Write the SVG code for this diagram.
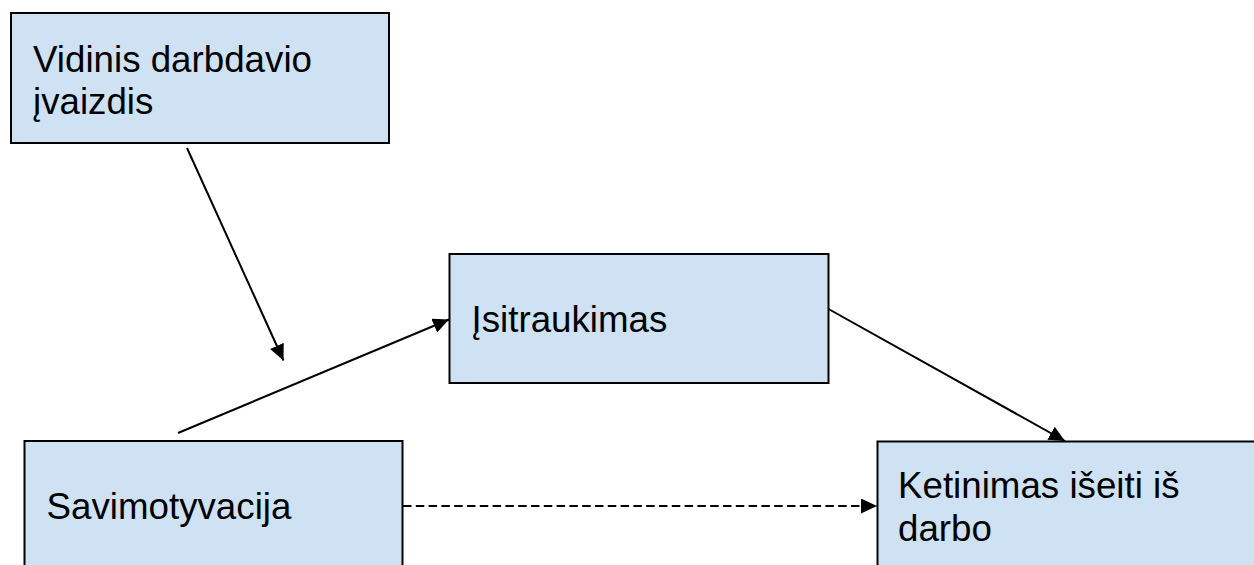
<svg xmlns="http://www.w3.org/2000/svg" width="1254" height="565" viewBox="0 0 1254 565">
  <style>
    .box { fill: #cfe2f3; stroke: #000; stroke-width: 2; }
    .lbl { font-family: "Liberation Sans", Arial, sans-serif; font-size: 36px; fill: #000; }
    .edge { stroke: #000; stroke-width: 2; fill: none; marker-end: url(#head); }
    .dashed { stroke-dasharray: 8.5 4.3; }
  </style>
  <defs>
    <marker id="head" markerUnits="userSpaceOnUse" markerWidth="17" markerHeight="16" refX="16" refY="7.5" orient="auto">
      <path d="M0,0 L16,7.5 L0,15 z" fill="#000"/>
    </marker>
  </defs>
  <rect width="1254" height="565" fill="#fff"/>

  <g id="connectors">
    <line class="edge" x1="187" y1="148" x2="283.5" y2="360.5"/>
    <line class="edge" x1="178" y1="433" x2="449" y2="319.5"/>
    <line class="edge" x1="828.5" y1="309" x2="1065" y2="441"/>
    <line class="edge dashed" x1="403" y1="506" x2="877" y2="506"/>
  </g>

  <g id="node-vidinis">
    <rect class="box" x="11" y="13" width="378" height="130"/>
    <text class="lbl" transform="translate(33 72) scale(1.02 1)"><tspan x="0" y="0">Vidinis darbdavio</tspan><tspan x="0" dy="42">įvaizdis</tspan></text>
  </g>

  <g id="node-isitraukimas">
    <rect class="box" x="449.5" y="254" width="379" height="129"/>
    <text class="lbl" transform="translate(471.5 332) scale(1.02 1)">Įsitraukimas</text>
  </g>

  <g id="node-savimotyvacija">
    <rect class="box" x="24.5" y="441" width="378" height="140"/>
    <text class="lbl" transform="translate(46.5 519) scale(1.02 1)">Savimotyvacija</text>
  </g>

  <g id="node-ketinimas">
    <rect class="box" x="877.5" y="441.5" width="400" height="140"/>
    <text class="lbl" transform="translate(898 498) scale(1.02 1)"><tspan x="0" y="0">Ketinimas išeiti iš</tspan><tspan x="0" dy="43">darbo</tspan></text>
  </g>
</svg>
